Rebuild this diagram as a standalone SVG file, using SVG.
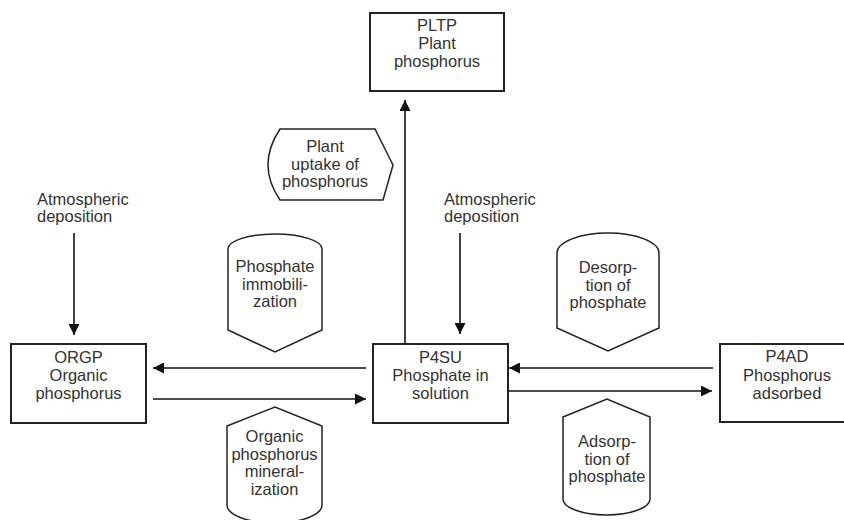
<svg xmlns="http://www.w3.org/2000/svg" width="844" height="520" viewBox="0 0 844 520">
<defs>
<marker id="ah" viewBox="0 0 11 11" refX="11" refY="5.5" markerWidth="11" markerHeight="11" markerUnits="userSpaceOnUse" orient="auto">
<path d="M0,0 L11,5.5 L0,11 Z" fill="#111"/>
</marker>
<style>
.box{fill:#fff;stroke:#222;stroke-width:2}
.proc{fill:#fff;stroke:#222;stroke-width:1.5}
.t{font-family:"Liberation Sans",Arial,Helvetica,sans-serif;font-size:16.5px;fill:#333;text-anchor:middle}
.tl{font-family:"Liberation Sans",Arial,Helvetica,sans-serif;font-size:16.5px;fill:#333}
.c{stroke:#111;stroke-width:1.6;fill:none}
.a{stroke:#111;stroke-width:1.6;fill:none;marker-end:url(#ah)}
</style>
</defs>
<rect width="844" height="520" fill="#fff"/>

<g id="connectors">
<line class="a" x1="405" y1="344" x2="405" y2="100"/>
<line class="a" x1="74" y1="233" x2="74" y2="335"/>
<line class="a" x1="460" y1="233" x2="460" y2="334"/>
<line class="a" x1="366" y1="368" x2="153" y2="368"/>
<line class="a" x1="153" y1="399" x2="366" y2="399"/>
<line class="a" x1="713" y1="368" x2="509" y2="368"/>
<line class="a" x1="508" y1="391" x2="712" y2="391"/>
</g>

<g id="PLTP">
<rect class="box" x="370" y="13" width="134" height="78"/>
<text class="t" x="437" y="31">PLTP</text>
<text class="t" x="437" y="49">Plant</text>
<text class="t" x="437" y="67">phosphorus</text>
</g>

<g id="ORGP">
<rect class="box" x="11" y="344" width="135" height="79"/>
<text class="t" x="78.5" y="363">ORGP</text>
<text class="t" x="78.5" y="381">Organic</text>
<text class="t" x="78.5" y="399">phosphorus</text>
</g>

<g id="P4SU">
<rect class="box" x="373" y="344" width="135" height="79"/>
<text class="t" x="440.5" y="363">P4SU</text>
<text class="t" x="440.5" y="381">Phosphate in</text>
<text class="t" x="440.5" y="399">solution</text>
</g>

<g id="P4AD">
<rect class="box" x="720" y="344" width="134" height="78"/>
<text class="t" x="787" y="362">P4AD</text>
<text class="t" x="787" y="381">Phosphorus</text>
<text class="t" x="787" y="399">adsorbed</text>
</g>

<g id="atm-left">
<text class="tl" x="37" y="205">Atmospheric</text>
<text class="tl" x="37" y="222">deposition</text>
</g>

<g id="atm-mid">
<text class="tl" x="444" y="205">Atmospheric</text>
<text class="tl" x="444" y="222">deposition</text>
</g>

<g id="plant-uptake">
<path class="proc" d="M280,129 L375,129 L393,165 L383,200 L280,200 Q256,165 280,129 Z"/>
<text class="t" x="325" y="152">Plant</text>
<text class="t" x="325" y="170">uptake of</text>
<text class="t" x="325" y="187">phosphorus</text>
</g>

<g id="immobilization">
<path class="proc" d="M228,330 L228,249 A47,15 0 0 1 322,249 L322,330 L275,352 Z"/>
<text class="t" x="275" y="272">Phosphate</text>
<text class="t" x="275" y="290">immobili-</text>
<text class="t" x="275" y="307">zation</text>
</g>

<g id="desorption">
<path class="proc" d="M557,328 L557,253 A51,20 0 0 1 659,253 L659,328 L608,351 Z"/>
<text class="t" x="608" y="273">Desorp-</text>
<text class="t" x="608" y="291">tion of</text>
<text class="t" x="608" y="308">phosphate</text>
</g>

<g id="mineralization">
<path class="proc" d="M227,426 L275,407 L322,426 L322,505 A47.5,18 0 0 1 227,505 Z"/>
<text class="t" x="274.5" y="442">Organic</text>
<text class="t" x="274.5" y="460">phosphorus</text>
<text class="t" x="274.5" y="477">mineral-</text>
<text class="t" x="274.5" y="495">ization</text>
</g>

<g id="adsorption">
<path class="proc" d="M563,417 L607,399 L650,417 L650,499 A43.5,16 0 0 1 563,499 Z"/>
<text class="t" x="607" y="447">Adsorp-</text>
<text class="t" x="607" y="465">tion of</text>
<text class="t" x="607" y="482">phosphate</text>
</g>
</svg>
